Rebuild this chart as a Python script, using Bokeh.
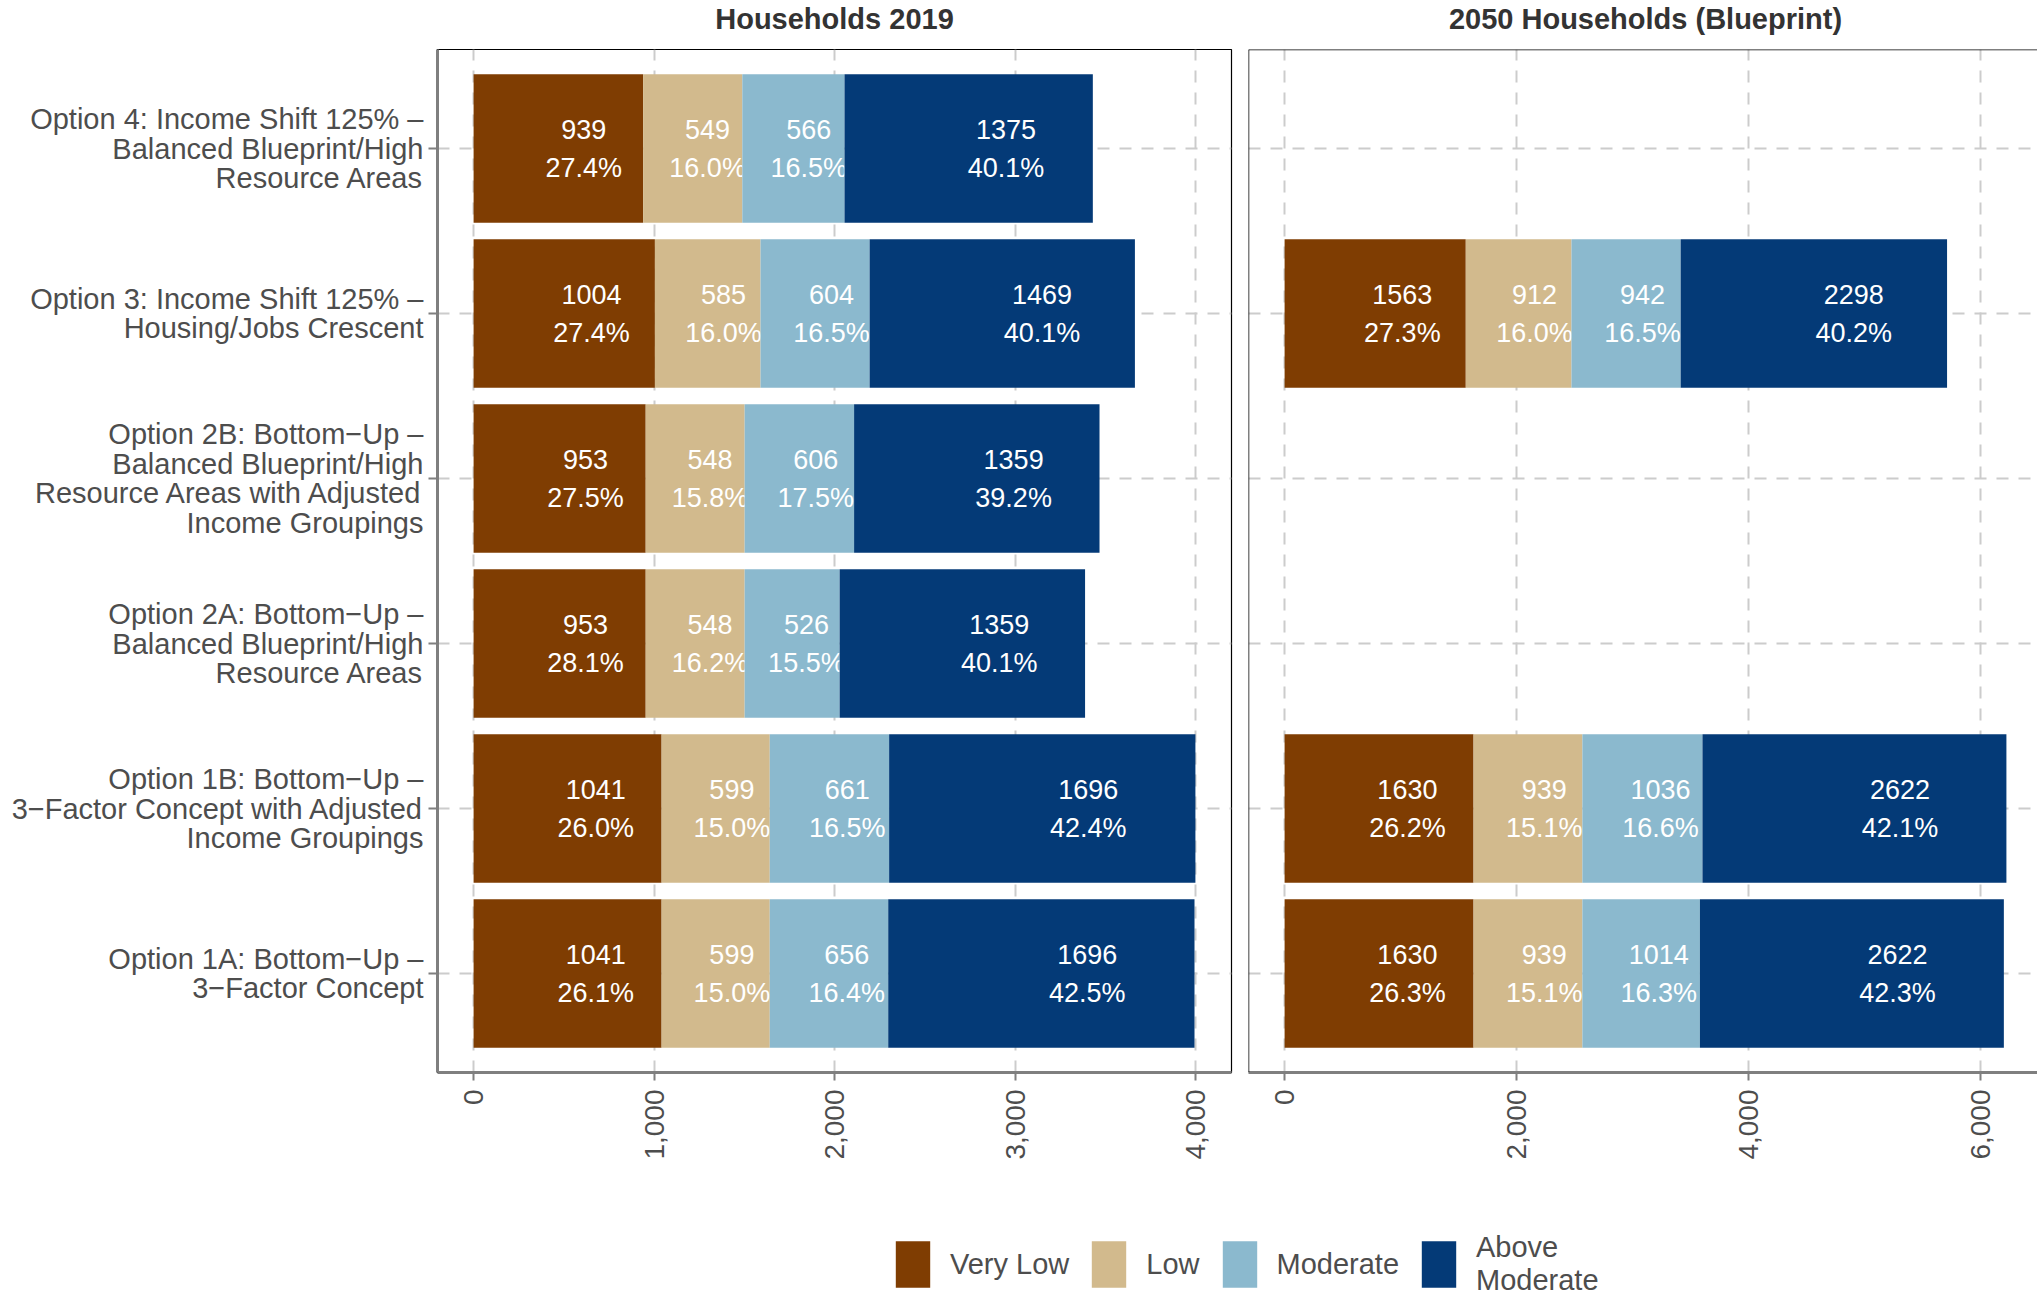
import math
import numpy as np
from bokeh.plotting import figure
from bokeh.models import (ColumnDataSource, Range1d, FixedTicker, NumeralTickFormatter,
                          Legend, LegendItem, Span, Label)
from bokeh.layouts import column, row
from bokeh.embed import file_html
from bokeh.resources import INLINE
from bokeh.core.properties import value

# ---------------- data ----------------
# categories, bottom to top
options = [
    "Option 1A: Bottom\u2212Up \u2013\n3\u2212Factor Concept",
    "Option 1B: Bottom\u2212Up \u2013\n3\u2212Factor Concept with Adjusted\nIncome Groupings",
    "Option 2A: Bottom\u2212Up \u2013\nBalanced Blueprint/High\nResource Areas",
    "Option 2B: Bottom\u2212Up \u2013\nBalanced Blueprint/High\nResource Areas with Adjusted\nIncome Groupings",
    "Option 3: Income Shift 125% \u2013\nHousing/Jobs Crescent",
    "Option 4: Income Shift 125% \u2013\nBalanced Blueprint/High\nResource Areas",
]
levels = ["Very Low", "Low", "Moderate", "Above\nModerate"]
level_colors = ["#7F3D02", "#D2BA8D", "#8BB9CE", "#043A77"]

panel_titles = ["Households 2019", "2050 Households (Blueprint)"]

# Households 2019 (all six options)
hh2019_very_low = [1041, 1041, 953, 953, 1004, 939]
hh2019_low = [599, 599, 548, 548, 585, 549]
hh2019_moderate = [656, 661, 526, 606, 604, 566]
hh2019_above = [1696, 1696, 1359, 1359, 1469, 1375]
pct2019_very_low = ["26.1%", "26.0%", "28.1%", "27.5%", "27.4%", "27.4%"]
pct2019_low = ["15.0%", "15.0%", "16.2%", "15.8%", "16.0%", "16.0%"]
pct2019_moderate = ["16.4%", "16.5%", "15.5%", "17.5%", "16.5%", "16.5%"]
pct2019_above = ["42.5%", "42.4%", "40.1%", "39.2%", "40.1%", "40.1%"]

# 2050 Households (Blueprint) (three options)
options_2050 = [options[0], options[1], options[4]]
hh2050_very_low = [1630, 1630, 1563]
hh2050_low = [939, 939, 912]
hh2050_moderate = [1014, 1036, 942]
hh2050_above = [2622, 2622, 2298]
pct2050_very_low = ["26.3%", "26.2%", "27.3%"]
pct2050_low = ["15.1%", "15.1%", "16.0%"]
pct2050_moderate = ["16.3%", "16.6%", "16.5%"]
pct2050_above = ["42.3%", "42.1%", "40.2%"]

ticks_2019 = [0, 1000, 2000, 3000, 4000]
ticks_2050 = [0, 2000, 4000, 6000]

# ---------------- style ----------------
FONT = "Liberation Sans"
AXIS_GRAY = "#7F7F7F"
TEXT_GRAY = "#4D4D4D"
GRID = "#CCCCCC"
PANEL_W = 794           # full (virtual) panel width in px
FRAME_H = 1023
TITLE_H = 47
TOP = 2
BOTTOM = 100
H = TOP + FRAME_H + BOTTOM
PAGE_H = 1295
P1_LEFT, P1_RIGHT = 437, 8
P2_LEFT, P2_FRAME = 9, 789


def make_panel(cats, series, pcts, ticks, frame_w, mb_left, mb_right, first):
    y = [options.index(c) + 1 for c in cats]
    arr = np.array(series, dtype=float)
    vmax = arr.sum(axis=0).max()
    start = -0.05 * vmax
    end = start + 1.1 * vmax * frame_w / PANEL_W
    y_start, y_end = 0.4, len(options) + 0.6
    p = figure(width=mb_left + frame_w + mb_right, height=H, title=None,
               x_range=Range1d(start, end), y_range=Range1d(y_start, y_end),
               toolbar_location=None, output_backend="svg",
               min_border_left=mb_left, min_border_right=mb_right,
               min_border_top=TOP, min_border_bottom=BOTTOM)
    p.background_fill_color = "white"
    p.border_fill_color = "white"

    left = np.zeros(len(cats))
    for vals, pc, col in zip(arr, pcts, level_colors):
        src = ColumnDataSource(dict(
            y=y, left=left, right=left + vals,
            lab=[str(int(v)) for v in vals], pct=pc, xl=left + 0.65 * vals))
        p.hbar(y="y", left="left", right="right", height=0.9, source=src,
               fill_color=col, line_color=None)
        for field, off in (("lab", -19), ("pct", 19.5)):
            p.text(x="xl", y="y", text=field, source=src, y_offset=off,
                   text_align="center", text_baseline="middle",
                   text_color="white", text_font=value(FONT),
                   text_font_size=value("27px"))
        left = left + vals

    # x axis
    xa = p.xaxis[0]
    xa.ticker = FixedTicker(ticks=ticks)
    xa.formatter = NumeralTickFormatter(format="0,0")
    xa.major_label_orientation = math.pi / 2
    xa.axis_line_color = AXIS_GRAY
    xa.axis_line_width = 3
    xa.major_tick_line_color = AXIS_GRAY
    xa.major_tick_line_width = 2
    xa.major_tick_out = 8
    xa.major_tick_in = 0
    xa.minor_tick_line_color = None
    xa.major_label_standoff = 9
    xa.major_label_text_font = FONT
    xa.major_label_text_font_size = "28px"
    xa.major_label_text_color = TEXT_GRAY

    # grids
    ypos = list(range(1, len(options) + 1))
    p.xgrid.ticker = FixedTicker(ticks=ticks)
    p.ygrid.ticker = FixedTicker(ticks=ypos)
    for g in (p.xgrid, p.ygrid):
        g.grid_line_color = GRID
        g.grid_line_width = 2
        g.grid_line_dash = "12 10"

    ya = p.yaxis[0]
    if first:
        ya.ticker = FixedTicker(ticks=ypos)
        ya.major_label_overrides = {i + 1: lab for i, lab in enumerate(options)}
        ya.axis_line_color = AXIS_GRAY
        ya.axis_line_width = 3
        ya.major_tick_line_color = AXIS_GRAY
        ya.major_tick_line_width = 2
        ya.major_tick_out = 9
        ya.major_tick_in = 0
        ya.minor_tick_line_color = None
        ya.major_label_standoff = 5
        ya.major_label_text_font = FONT
        ya.major_label_text_font_size = "29px"
        ya.major_label_text_color = TEXT_GRAY
        ya.major_label_text_line_height = 0.93
        p.outline_line_color = "black"
        p.outline_line_width = 1.2
    else:
        ya.visible = False
        p.outline_line_color = None
        p.add_layout(Span(location=start, dimension="height", line_color="black", line_width=1.5))
        p.add_layout(Span(location=y_end, dimension="width", line_color="black", line_width=1.5))
    return p


p1 = make_panel(options,
                [hh2019_very_low, hh2019_low, hh2019_moderate, hh2019_above],
                [pct2019_very_low, pct2019_low, pct2019_moderate, pct2019_above],
                ticks_2019, PANEL_W, P1_LEFT, P1_RIGHT, True)
p2 = make_panel(options_2050,
                [hh2050_very_low, hh2050_low, hh2050_moderate, hh2050_above],
                [pct2050_very_low, pct2050_low, pct2050_moderate, pct2050_above],
                ticks_2050, P2_FRAME, P2_LEFT, 0, False)

TOTAL_W = p1.width + p2.width

# ---------------- panel titles (strip) ----------------
pt = figure(width=TOTAL_W, height=TITLE_H, toolbar_location=None, output_backend="svg",
            x_range=Range1d(0, TOTAL_W), y_range=Range1d(0, TITLE_H), title=None,
            min_border_left=0, min_border_right=0, min_border_top=0, min_border_bottom=0)
pt.axis.visible = False
pt.grid.visible = False
pt.outline_line_color = None
pt.background_fill_color = "white"
pt.border_fill_color = "white"
title_centres = [P1_LEFT + PANEL_W / 2, p1.width + P2_LEFT + PANEL_W / 2]
for txt, cx in zip(panel_titles, title_centres):
    pt.add_layout(Label(x=cx, y=TITLE_H - 18.5, text=txt,
                        text_align="center", text_baseline="middle",
                        text_font=FONT, text_font_size="29px", text_font_style="bold",
                        text_color="#333333"))

# ---------------- legend ----------------
LEG_H = PAGE_H - TITLE_H - H
pl = figure(width=TOTAL_W, height=LEG_H, toolbar_location=None, output_backend="svg",
            x_range=Range1d(0, 1), y_range=Range1d(0, 1), title=None,
            min_border_left=0, min_border_right=0, min_border_top=0, min_border_bottom=0)
pl.axis.visible = False
pl.grid.visible = False
pl.outline_line_color = None
pl.background_fill_color = "white"
pl.border_fill_color = "white"
items = []
for name, col in zip(levels, level_colors):
    # legend key renderer (its single point lies outside the visible range)
    r = pl.rect(x=[5], y=[5], width=1, height=1, fill_color=col, line_color=None)
    items.append(LegendItem(label=name, renderers=[r]))
legend = Legend(items=items, orientation="horizontal", location=(891, LEG_H - 125),
                glyph_width=43, glyph_height=58, label_standoff=16, spacing=18,
                padding=0, margin=0, border_line_color=None, background_fill_alpha=0,
                label_text_font=FONT, label_text_font_size="29px",
                label_text_color=TEXT_GRAY, label_text_line_height=1.0)
pl.add_layout(legend)

layout = column(pt, row(p1, p2), pl)
open("out.html", "w").write(file_html(layout, INLINE))
